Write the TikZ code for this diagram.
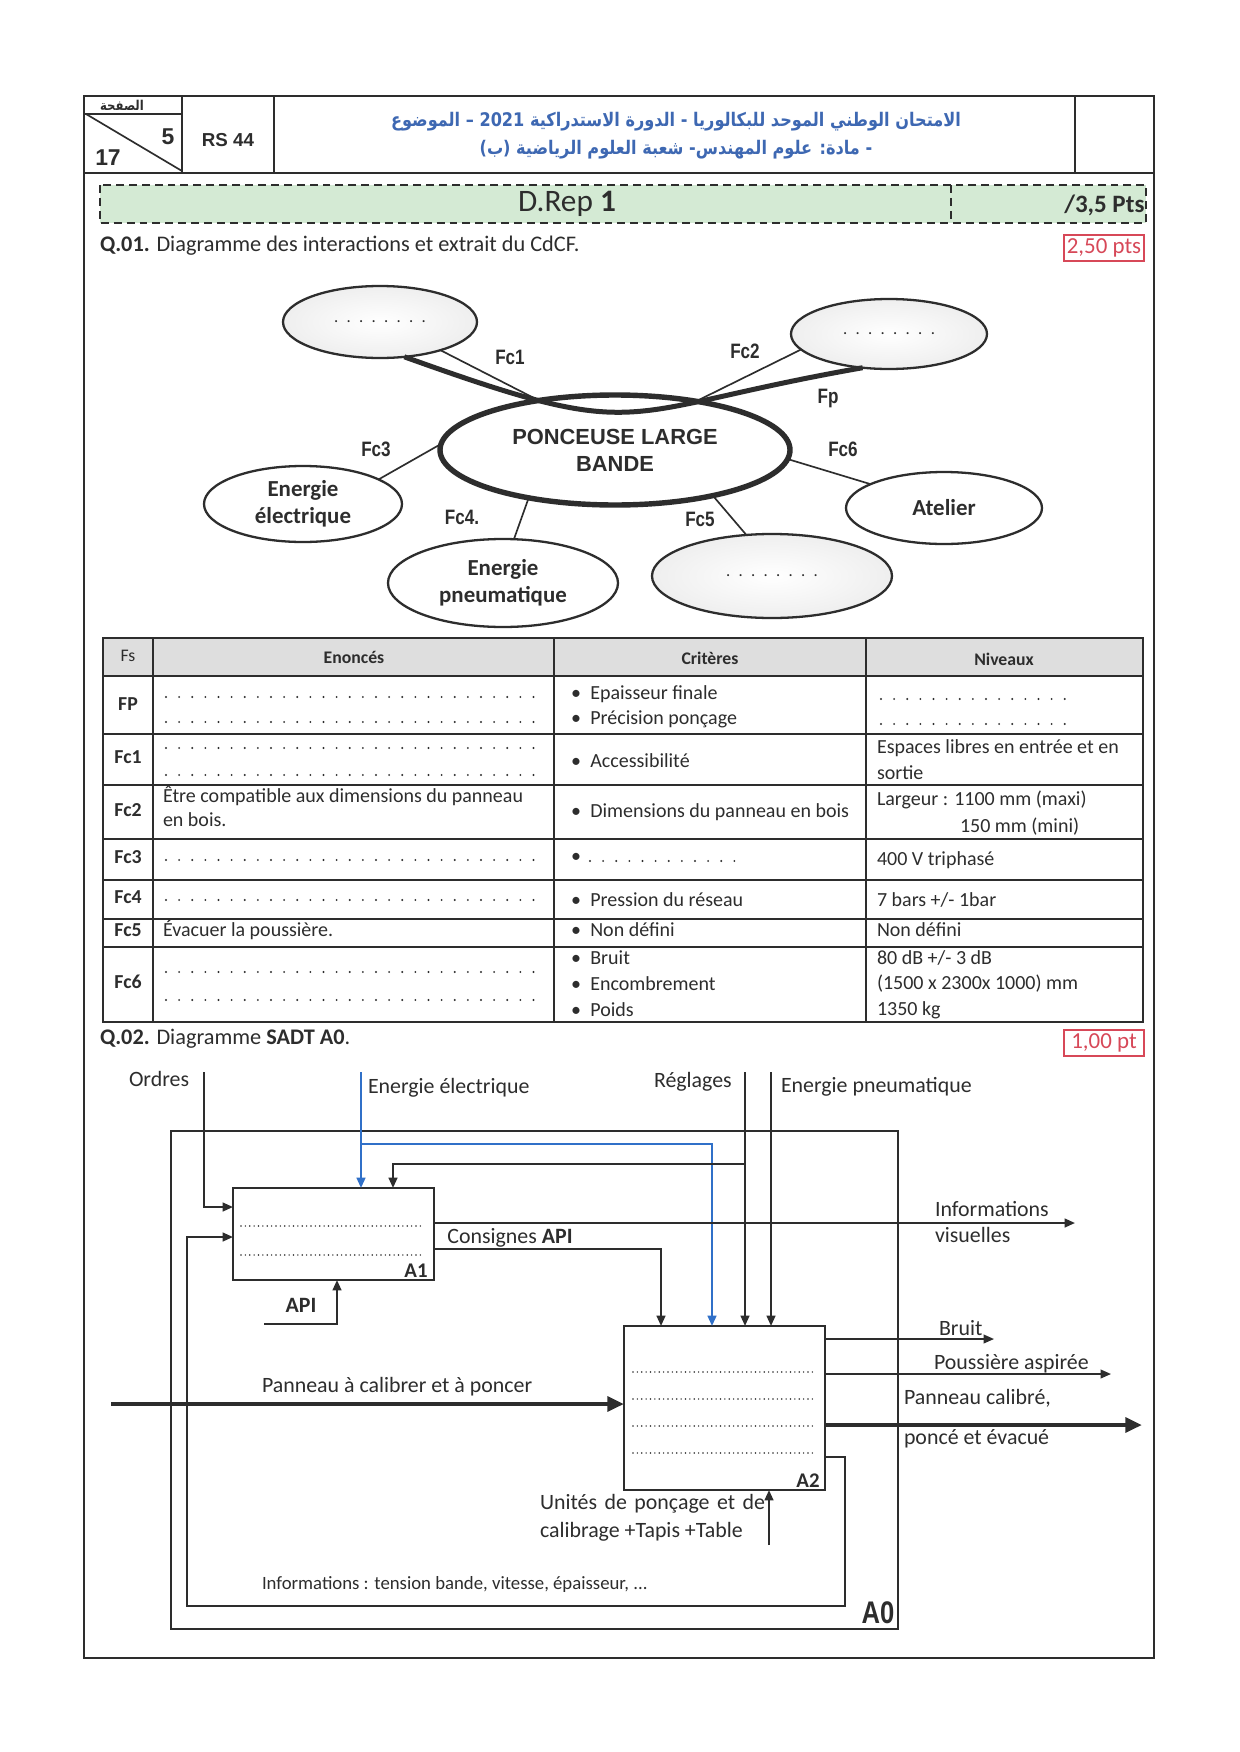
\documentclass[tikz,border=0pt]{standalone}
\usepackage{fontspec}
\setmainfont{Carlito}
\newfontfamily\arabicfont[Script=Arabic,FakeStretch=0.86]{DejaVu Sans}
\newfontfamily\arialfont{Liberation Sans}
\newfontfamily\narrowfont[FakeStretch=0.82]{Liberation Sans}
\TeXXeTstate=1
\usetikzlibrary{shapes.geometric,arrows.meta,calc}
\definecolor{arblue}{RGB}{62,104,178}
\definecolor{eblue}{RGB}{48,112,200}
\definecolor{ptred}{RGB}{215,72,88}
\definecolor{bannergreen}{RGB}{212,234,212}
\definecolor{hdrgray}{RGB}{222,222,222}
\definecolor{ink}{RGB}{45,45,45}
\tikzset{
  txt/.style={inner sep=0pt, outer sep=0pt, text=ink, font=\fontsize{9.6}{11.5}\selectfont},
  sadt/.style={inner sep=0pt, outer sep=0pt, text=ink, font=\fontsize{10.5}{13}\selectfont},
  rowlab/.style={inner sep=0pt, text=ink, font=\fontsize{9.5}{11}\selectfont\bfseries},
  fclab/.style={inner sep=0pt, text=ink, font=\fontsize{10}{12}\narrowfont\bfseries},
  ell/.style={ellipse, draw=ink, line width=1.1pt, inner sep=0pt, outer sep=0pt, fill=white, align=center, text=ink, font=\fontsize{11}{13}\selectfont\bfseries},
  gell/.style={ell, inner color=white, outer color=gray!13},
  link/.style={draw=ink, line width=0.8pt},
  tdots/.style={draw=ink, line width=1pt, line cap=round, dash pattern=on 0pt off 6.3pt},
  bdots/.style={draw=ink, line width=0.8pt, line cap=round, dash pattern=on 0pt off 2.1pt},
  wire/.style={draw=ink, line width=1pt},
  bwire/.style={draw=eblue, line width=1.1pt},
  tip/.style={-{Triangle[length=5pt,width=4.2pt]}},
  fatwire/.style={draw=ink, line width=2.1pt, -{Triangle[length=8pt,width=7pt]}},
  blk/.style={draw=ink, line width=1.3pt, fill=white, inner sep=0pt, outer sep=0pt},
  ptbox/.style={draw=ptred, line width=0.8pt, text=ptred, inner sep=0pt, font=\fontsize{11}{13}\selectfont},
  bul/.style={txt, anchor=west}
}
\newcommand\bl{•\hspace{4.5pt}}
\begin{document}
\begin{tikzpicture}[x=0.48pt,y=-0.48pt]
\useasboundingbox[fill=white] (0,0) rectangle (1240,1752);

% ---------- page frame and header ----------
\draw[draw=ink, line width=1.2pt] (84,96) rectangle (1154,1658);
\draw[draw=ink, line width=1pt] (84,173) -- (1154,173);
\draw[draw=ink, line width=0.8pt] (182,96) -- (182,173);
\draw[draw=ink, line width=0.8pt] (274,96) -- (274,173);
\draw[draw=ink, line width=0.8pt] (1075,96) -- (1075,173);
\draw[draw=ink, line width=0.8pt] (84,114) -- (182,114);
\draw[draw=ink, line width=0.8pt] (86,114) -- (182,171);
\node[inner sep=0pt, text=ink, font=\fontsize{6.5}{8}\arabicfont\bfseries] (pg) at (122,105) {\beginR الصفحة\endR};
\node[inner sep=0pt, text=ink, font=\fontsize{11}{13}\arialfont\bfseries] (p5) at (168,137) {5};
\node[inner sep=0pt, text=ink, font=\fontsize{11}{13}\arialfont\bfseries] (p17) at (108,158) {17};
\node[inner sep=0pt, text=ink, font=\fontsize{9}{11}\arialfont\bfseries] (rs) at (228,140) {RS 44};
\node[inner sep=0pt, text=arblue, font=\fontsize{9}{11}\arabicfont\bfseries] (ar1) at (676,122)
  {\beginR الامتحان الوطني الموحد للبكالوريا - الدورة الاستدراكية \beginL 2021\endL{} – الموضوع\endR};
\node[inner sep=0pt, text=arblue, font=\fontsize{9}{11}\arabicfont\bfseries] (ar2) at (676,150)
  {\beginR - مادة: علوم المهندس- شعبة العلوم الرياضية (ب)\endR};

% ---------- banner ----------
\fill[bannergreen] (100,185) rectangle (1146,223);
\draw[draw=ink, line width=1.3pt, dash pattern=on 3.8pt off 2.4pt] (100,185) rectangle (1146,223);
\draw[draw=ink, line width=1.3pt, dash pattern=on 3.8pt off 2.4pt] (951,185) -- (951,223);
\node[inner sep=0pt, text=ink, font=\fontsize{15}{18}\selectfont] (drep) at (567,204) {D.Rep \textbf{1}};
\node[inner sep=0pt, anchor=east, text=ink, font=\fontsize{12}{14}\selectfont\bfseries] (pts) at (1145,205) {/3,5 Pts};

\node[txt, anchor=west, font=\fontsize{10.7}{13}\selectfont] (q1) at (100,246) {\textbf{Q.01.} Diagramme des interactions et extrait du CdCF.};
\node[ptbox, minimum width=80*0.48pt, minimum height=26*0.48pt] (pts1) at (1104,248) {2,50 pts};

% ---------- interaction diagram ----------
\node[gell, minimum width=194*0.48pt, minimum height=72*0.48pt] (tl) at (380,322) {\fontsize{8}{9}\selectfont\mdseries .\hspace{4pt}.\hspace{4pt}.\hspace{4pt}.\hspace{4pt}.\hspace{4pt}.\hspace{4pt}.\hspace{4pt}.};
\node[gell, minimum width=196*0.48pt, minimum height=70*0.48pt] (tr) at (889,334) {\fontsize{8}{9}\selectfont\mdseries .\hspace{4pt}.\hspace{4pt}.\hspace{4pt}.\hspace{4pt}.\hspace{4pt}.\hspace{4pt}.\hspace{4pt}.};
\node[ell, minimum width=198*0.48pt, minimum height=76*0.48pt] (ee) at (303,504) {Energie\\électrique};
\node[ell, minimum width=196*0.48pt, minimum height=72*0.48pt] (at) at (944,508) {Atelier};
\node[ell, minimum width=230*0.48pt, minimum height=88*0.48pt] (ep) at (503,583) {Energie\\pneumatique};
\node[gell, minimum width=240*0.48pt, minimum height=84*0.48pt] (dr) at (772,576) {\fontsize{8}{9}\selectfont\mdseries .\hspace{4pt}.\hspace{4pt}.\hspace{4pt}.\hspace{4pt}.\hspace{4pt}.\hspace{4pt}.\hspace{4pt}.};
\node[ell, line width=2.6pt, minimum width=350*0.48pt, minimum height=110*0.48pt, font=\fontsize{10.5}{13}\arialfont\bfseries] (c) at (615,450) {PONCEUSE LARGE\\BANDE};

\draw[link] (tl.-25) -- (c.147);
\draw[link] (tr.-170) -- (c.31);
\draw[link] (ee.18) -- (c.178);
\draw[link] (at.162) -- (c.-3);
\draw[link] (ep.76) -- (c.-151);
\draw[link] (dr.122) -- (c.-25);
\draw[draw=ink, line width=2.4pt] (tl.-55) .. controls (650,445) and (610,412) .. (tr.-128);

\node[fclab] (lfc1) at (510,357) {Fc1};
\node[fclab] (lfc2) at (745,351) {Fc2};
\node[fclab] (lfp) at (828,398) {Fp};
\node[fclab] (lfc3) at (376,449) {Fc3};
\node[fclab] (lfc6) at (843,449) {Fc6};
\node[fclab] (lfc4) at (462,517) {Fc4.};
\node[fclab] (lfc5) at (700,519) {Fc5};

% ---------- table ----------
\fill[hdrgray] (103,638) rectangle (1143,676);
\foreach \yy in {734,785,839,880,919,947} \draw[draw=ink, line width=0.7pt] (103,\yy) -- (1143,\yy);
\foreach \xx in {153,554,866} \draw[draw=ink, line width=0.7pt] (\xx,638) -- (\xx,1022);
\draw[draw=ink, line width=1.4pt] (103,676) -- (1143,676);
\draw[draw=ink, line width=1.4pt] (103,638) rectangle (1143,1022);

\node[txt, font=\fontsize{8.5}{10}\selectfont] (hfs) at (128,656) {Fs};
\node[txt, font=\fontsize{8.5}{10}\selectfont\bfseries] (hen) at (354,657) {Enoncés};
\node[txt, font=\fontsize{8.5}{10}\selectfont\bfseries] (hcr) at (710,658) {Critères};
\node[txt, font=\fontsize{8.5}{10}\selectfont\bfseries] (hni) at (1004,659) {Niveaux};

\node[rowlab] (rfp) at (128,704) {FP};
\node[rowlab] (rfc1) at (128,757) {Fc1};
\node[rowlab] (rfc2) at (128,810) {Fc2};
\node[rowlab] (rfc3) at (128,857) {Fc3};
\node[rowlab] (rfc4) at (128,897) {Fc4};
\node[rowlab] (rfc5) at (128,930) {Fc5};
\node[rowlab] (rfc6) at (128,982) {Fc6};

% Enoncés
\foreach \yy in {697,722,748,775,860,900,972,1000} \draw[tdots] (166,\yy) -- (538,\yy);
\node[txt, anchor=west] (e2a) at (163,796) {Être compatible aux dimensions du panneau};
\node[txt, anchor=west] (e2b) at (163,820) {en bois.};
\node[txt, anchor=west] (e5) at (163,930) {Évacuer la poussière.};

% Critères
\node[bul] (c1a) at (571,694) {\bl Epaisseur finale};
\node[bul] (c1b) at (571,719) {\bl Précision ponçage};
\node[bul] (c2) at (571,761) {\bl Accessibilité};
\node[bul] (c3) at (571,812) {\bl Dimensions du panneau en bois};
\node[bul] (c4) at (571,858) {•};
\draw[tdots] (590,861) -- (745,861);
\node[bul] (c5) at (571,900) {\bl Pression du réseau};
\node[bul] (c6) at (571,930) {\bl Non défini};
\node[bul] (c7a) at (571,958) {\bl Bruit};
\node[bul] (c7b) at (571,984) {\bl Encombrement};
\node[bul] (c7c) at (571,1010) {\bl Poids};

% Niveaux
\foreach \yy in {699,724} \draw[tdots] (881,\yy) -- (1068,\yy);
\node[txt, anchor=west] (n1a) at (877,748) {Espaces libres en entrée et en};
\node[txt, anchor=west] (n1b) at (877,773) {sortie};
\node[txt, anchor=west] (n2a) at (877,800) {Largeur : 1100 mm (maxi)};
\node[txt, anchor=west] (n2b) at (960,827) {150 mm (mini)};
\node[txt, anchor=west] (n3) at (877,860) {400 V triphasé};
\node[txt, anchor=west] (n4) at (877,900) {7 bars +/- 1bar};
\node[txt, anchor=west] (n5) at (877,930) {Non défini};
\node[txt, anchor=west] (n6a) at (877,958) {80 dB +/- 3 dB};
\node[txt, anchor=west] (n6b) at (877,984) {(1500 x 2300x 1000) mm};
\node[txt, anchor=west] (n6c) at (877,1010) {1350 kg};

% ---------- SADT ----------
\node[txt, anchor=west, font=\fontsize{10.7}{13}\selectfont] (q2) at (100,1039) {\textbf{Q.02.} Diagramme \textbf{SADT A0}.};
\node[ptbox, minimum width=80*0.48pt, minimum height=26*0.48pt] (pts2) at (1104,1043) {1,00 pt};

% A0 frame
\draw[draw=ink, line width=1.1pt] (171,1131) rectangle (898,1629);
\node[inner sep=0pt, text=ink, font=\fontsize{15}{17}\narrowfont\bfseries] (a0) at (878,1613) {A0};

% blocks
\node[blk, minimum width=201*0.48pt, minimum height=92*0.48pt] (a1) at (333.5,1234) {};
\node[blk, minimum width=201*0.48pt, minimum height=164*0.48pt] (a2) at (724.5,1408) {};
\node[inner sep=0pt, text=ink, font=\fontsize{10}{12}\selectfont\bfseries, anchor=south east] (a1l) at ($(a1.south east)+(-6,-2)$) {A1};
\node[inner sep=0pt, text=ink, font=\fontsize{10}{12}\selectfont\bfseries, anchor=south east] (a2l) at ($(a2.south east)+(-5,-2)$) {A2};
\draw[bdots] (241,1226) -- (422,1226);
\draw[bdots] (241,1255) -- (422,1255);
\foreach \yy in {1372,1399,1426,1453} \draw[bdots] (633,\yy) -- (814,\yy);

% named coordinates for free ends
\coordinate (ordtop) at (204,1072);
\coordinate (eetop) at (361,1072);
\coordinate (regtop) at (745,1072);
\coordinate (eptop) at (771,1072);
\coordinate (apiend) at (264,1324);
\coordinate (pin) at (111,1404);
\coordinate (unit) at (769,1545);
\coordinate (infovis) at (1075,1223);
\coordinate (bruitend) at (994,1339);
\coordinate (poussend) at (1111,1374);
\coordinate (pout) at (1142,1425);

% controls from top
\draw[wire, tip] (ordtop) |- (a1.west |- 0,1207);
\draw[bwire, tip] (eetop) -- (eetop |- a1.north);
\draw[bwire, tip] (361,1144) -| (a2.north -| 712,0);
\draw[wire, tip] (regtop) -- (regtop |- a2.north);
\draw[wire, tip] (745,1164) -| (a1.north -| 393,0);
\draw[wire, tip] (eptop) -- (eptop |- a2.north);

% A1 outputs
\draw[wire, tip] (a1.east |- 0,1223) -- (infovis);
\draw[wire, tip] (a1.east |- 0,1249) -| (a2.north -| 661,0);
\draw[wire, tip] (apiend) -| (a1.south -| 337,0);

% feedback loop
\draw[wire, tip] (a2.east |- 0,1457) -| (845,1606) -| (187,1237) -- (a1.west |- 0,1237);

% input and outputs of A2
\draw[fatwire] (pin) -- (a2.west |- pin);
\draw[wire, tip] (unit) -- (unit |- a2.south);
\draw[wire, line width=0.8pt, tip] (a2.east |- bruitend) -- (bruitend);
\draw[wire, line width=0.8pt, tip] (a2.east |- poussend) -- (poussend);
\draw[fatwire] (a2.east |- pout) -- (pout);

% SADT labels
\node[sadt, anchor=west] (lord) at (129,1079) {Ordres};
\node[sadt, anchor=west] (lee) at (368,1088) {Energie électrique};
\node[sadt, anchor=west] (lreg) at (654,1082) {Réglages};
\node[sadt, anchor=west] (lep) at (781,1087) {Energie pneumatique};
\node[sadt, anchor=west] (linf) at (935,1209) {Informations};
\node[sadt, anchor=west] (lvis) at (935,1235) {visuelles};
\node[sadt] (lcons) at (510,1238) {Consignes \textbf{API}};
\node[sadt, font=\fontsize{10.5}{13}\selectfont\bfseries] (lapi) at (301,1305) {API};
\node[sadt, anchor=west] (lpan) at (262,1387) {Panneau à calibrer et à poncer};
\node[sadt, anchor=west] (lbr) at (939,1328) {Bruit};
\node[sadt, anchor=west] (lpo) at (934,1364) {Poussière aspirée};
\node[sadt, anchor=west] (lpc1) at (904,1398) {Panneau calibré,};
\node[sadt, anchor=west] (lpc2) at (904,1439) {poncé et évacué};
\node[sadt, anchor=west] (lun1) at (540,1504) {\makebox[108pt][s]{Unités de ponçage et de}};
\node[sadt, anchor=west] (lun2) at (540,1532) {calibrage +Tapis +Table};
\node[sadt, anchor=west, font=\fontsize{9}{11}\selectfont] (linfo) at (262,1584) {Informations : tension bande, vitesse, épaisseur, ...};
\end{tikzpicture}
\end{document}
